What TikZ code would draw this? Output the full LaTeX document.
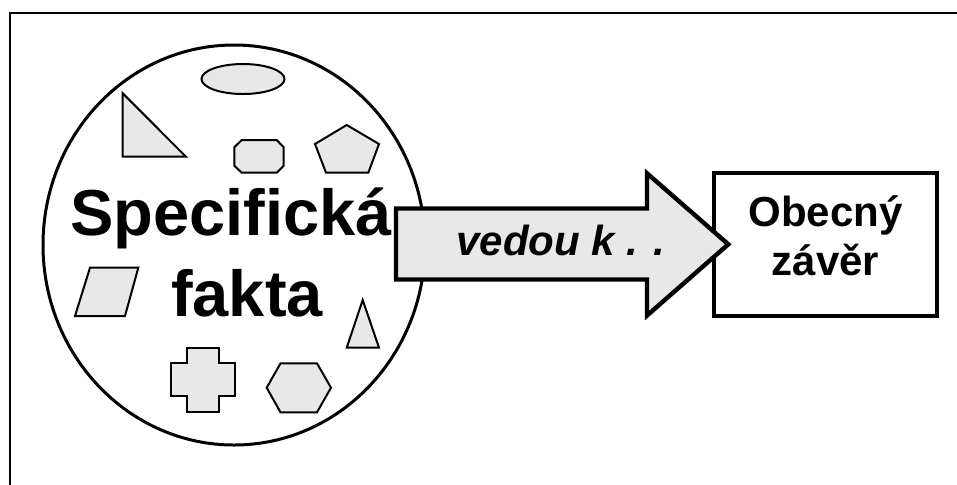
\documentclass[tikz,border=0pt]{standalone}
\usepackage{fontspec}
\setmainfont{Liberation Sans}
\definecolor{shapegray}{gray}{0.91}
\newcommand{\hugebf}{\fontsize{32.5}{38}\selectfont\bfseries}
\newcommand{\midbf} {\fontsize{21}{24}\selectfont\bfseries}
\newcommand{\midit} {\fontsize{21}{24}\selectfont\bfseries\itshape}

\begin{document}
\begin{tikzpicture}[x=0.5pt,y=-0.5pt,
    piece/.style={draw,fill=shapegray,line width=1pt,line join=miter}]
  \useasboundingbox (0,0) rectangle (957,484);
  \draw[line width=1.2pt] (10,500) -- (10,13) -- (960,13);
  \draw[line width=1.5pt] (234,245) ellipse [x radius=191,y radius=200];
  \draw[piece] (243,79) ellipse [x radius=41.5,y radius=15];
  \draw[piece] (122.7, 93.3) -- (122.7,156.7) -- (186.0,156.7) -- cycle;
  \draw[piece] (241.7,140.0) -- (276.7,140.0) -- (283.7,147.3) -- (283.7,165.7)
            -- (276.7,172.7) -- (241.7,172.7) -- (234.3,165.7) -- (234.3,147.3) -- cycle;
  \draw[piece] (346.7,125.0) -- (379.0,144.0) -- (368.3,172.7) -- (326.0,172.7)
            -- (315.0,144.0) -- cycle;
  \draw[piece] ( 90.0,267.7) -- (138.3,267.7) -- (125.0,316.0) -- ( 75.0,316.0) -- cycle;
  \draw[piece] (362.7,300.0) -- (379.0,347.7) -- (346.7,347.7) -- cycle;
  \draw[piece] (186.7,347.7) -- (219.0,347.7) -- (219.0,363.3) -- (235.0,363.3)
            -- (235.0,396.0) -- (219.0,396.0) -- (219.0,412.3) -- (186.7,412.3)
            -- (186.7,396.0) -- (170.7,396.0) -- (170.7,363.3) -- (186.7,363.3) -- cycle;
  \draw[piece] (266.7,387.7) -- (280.5,363.3) -- (317.0,363.3) -- (331.0,387.7)
            -- (317.0,412.3) -- (280.5,412.3) -- cycle;
  \node[anchor=base,inner sep=0pt] (spec)  at (231,235) {\hugebf Specifická};
  \node[anchor=base,inner sep=0pt] (fakta) at (247,316.7) {\hugebf fakta};
  % general conclusion
  \node[draw,line width=1.8pt,minimum width=111.5pt,minimum height=71.5pt,inner sep=0pt]
    (concl) at (825.5,244.5) {};
  \node[anchor=base,inner sep=0pt] (obecny) at (825.5,226.7) {\midbf Obecný};
  \node[anchor=base,inner sep=0pt] (zaver)  at (825.5,275.0) {\midbf závěr};
  % block arrow
  \draw[fill=shapegray,line width=2.2pt,line join=miter]
    (396,208.5) -- (647,208.5) -- (647,173.3) -- (728.3,244.3)
    -- (647,315.5) -- (647,279.5) -- (396,279.5) -- cycle;
  \node[anchor=base,inner sep=0pt] (lead) at (561,255) {\midit vedou k . .};
\end{tikzpicture}
\end{document}
